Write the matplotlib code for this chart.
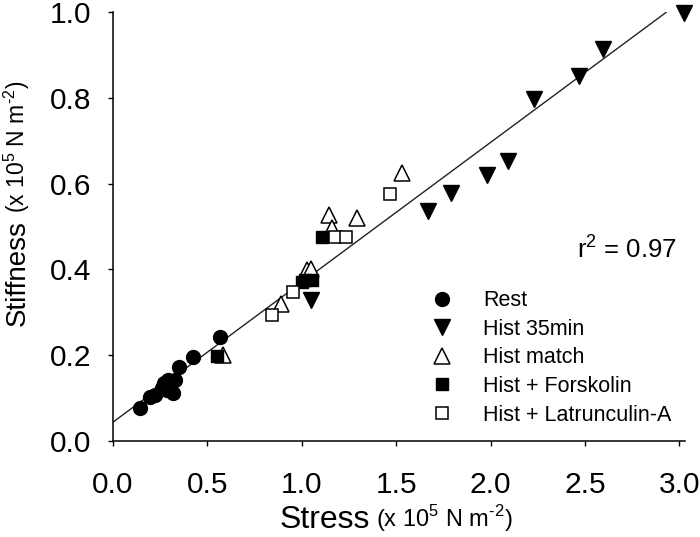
import numpy as np
import matplotlib
matplotlib.use("Agg")
import matplotlib.pyplot as plt
from matplotlib.ticker import MultipleLocator, FormatStrFormatter

plt.rcParams['font.family'] = ['Liberation Sans', 'DejaVu Sans']
plt.rcParams['mathtext.fontset'] = 'custom'
plt.rcParams['mathtext.rm'] = 'Liberation Sans'

# stress (x 10^5 N m^-2) and stiffness (x 10^5 N m^-2) per group
rest_x = [0.143, 0.196, 0.223, 0.258, 0.270, 0.285, 0.293, 0.320, 0.329, 0.350, 0.422, 0.567]
rest_y = [0.078, 0.103, 0.107, 0.123, 0.135, 0.119, 0.142, 0.111, 0.142, 0.172, 0.195, 0.243]

hist35_x = [1.049, 1.666, 1.790, 1.980, 2.095, 2.231, 2.468, 2.598, 3.025]
hist35_y = [0.329, 0.537, 0.579, 0.620, 0.653, 0.798, 0.851, 0.913, 0.998]

match_x = [0.585, 0.889, 1.026, 1.048, 1.146, 1.159, 1.291, 1.530]
match_y = [0.200, 0.319, 0.399, 0.400, 0.527, 0.496, 0.519, 0.624]

forsk_x = [0.553, 1.000, 1.017, 1.053, 1.106]
forsk_y = [0.197, 0.371, 0.375, 0.375, 0.476]

latr_x = [0.841, 0.955, 1.176, 1.235, 1.468]
latr_y = [0.294, 0.348, 0.476, 0.475, 0.576]

# regression line
fit_intercept = 0.044
fit_slope = 0.326
fit_xmax = 2.93
r2 = 0.97

units = r'(x 10$^{\mathregular{5}}$ N m$^{\mathregular{' + '\u2010' + r'2}}$)'

fig = plt.figure(figsize=(7, 5.37), dpi=100)
ax = fig.add_axes([113/700, 1-441/537, 572/700, 429/537])

lx = np.array([0.0, fit_xmax])
ax.plot(lx, fit_intercept + fit_slope*lx, color='#222222', lw=1.0, zorder=1)

ax.plot(rest_x, rest_y, 'o', ms=10, color='black', mec='black', label='Rest', clip_on=False)
ax.plot(hist35_x, hist35_y, 'v', ms=11, color='black', mec='black', label='Hist 35min', clip_on=False)
ax.plot(match_x, match_y, '^', ms=11, mfc='white', mec='black', mew=1.1, label='Hist match', clip_on=False)
ax.plot(forsk_x, forsk_y, 's', ms=9, color='black', mec='black', label='Hist + Forskolin', clip_on=False)
ax.plot(latr_x, latr_y, 's', ms=9, mfc='white', mec='black', mew=1.1, label='Hist + Latrunculin-A', clip_on=False)

ax.set_xlim(0, 3.03)
ax.set_ylim(0, 1.0)
ax.xaxis.set_major_locator(MultipleLocator(0.5))
ax.yaxis.set_major_locator(MultipleLocator(0.2))
ax.xaxis.set_major_formatter(FormatStrFormatter('%.1f'))
ax.yaxis.set_major_formatter(FormatStrFormatter('%.1f'))
ax.tick_params(axis='both', direction='out', length=3.6, width=1, labelsize=21.5, color='black')
ax.tick_params(axis='x', pad=18)
ax.tick_params(axis='y', pad=12)
for s in ['top', 'right']:
    ax.spines[s].set_visible(False)
for s in ['left', 'bottom']:
    ax.spines[s].set_linewidth(1.1)

ax.text(2.989, 0.427, r'r$^{\mathregular{2}}$ = %.2f' % r2, ha='right', va='baseline', fontsize=18.5)

ax.legend(loc='upper left', bbox_to_anchor=(0.557, 0.351), frameon=False, fontsize=15.5,
          handlelength=1.0, handletextpad=1.4, labelspacing=0.35, borderpad=0, borderaxespad=0,
          numpoints=1)

# axis labels, big word + smaller units
fig.text(280/700, 1-528/537, 'Stress', fontsize=23, ha='left', va='baseline')
fig.text(376/700, 1-527/537, units, fontsize=17, ha='left', va='baseline')
fig.text(25/700, 1-326/537, 'Stiffness', fontsize=20, rotation=90, rotation_mode='anchor',
         ha='left', va='baseline')
fig.text(25/700, 1-213/537, units, fontsize=16.5,
         rotation=90, rotation_mode='anchor', ha='left', va='baseline')

plt.savefig('out.png', dpi=100)
